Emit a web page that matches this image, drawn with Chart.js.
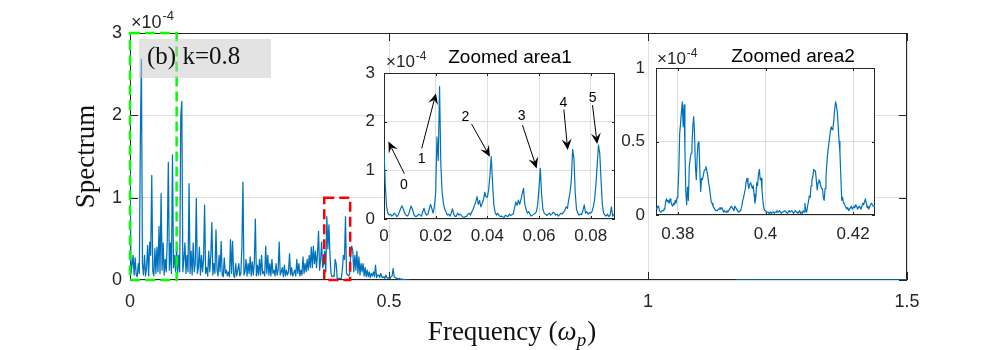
<!DOCTYPE html>
<html>
<head>
<meta charset="utf-8">
<script src="https://cdn.jsdelivr.net/npm/chart.js@4.4.1/dist/chart.umd.min.js"></script>
<style>
html,body{margin:0;padding:0;background:#fff;}
#wrap{position:relative;width:1000px;height:350px;overflow:hidden;}
#wrap canvas{position:absolute;left:0;top:0;pointer-events:none;}
</style>
</head>
<body>
<div id="wrap">
<canvas id="mainChart" width="1000" height="350"></canvas>
<canvas id="zoom1Chart" width="1000" height="350"></canvas>
<canvas id="zoom2Chart" width="1000" height="350"></canvas>
</div>
<script>
// ---------------- data (spectrum values in units of 1e-4) ----------------
const mainStart = 0;
const mainStep = 0.002;
const mainSpectrum = [
  1.43,0.08,0.18,0.30,0.06,  0.27,0.06,0.04,0.20,0.08,
  1.72,2.68,0.20,0.06,0.30,  0.05,0.15,0.42,0.05,0.46,
  0.30,1.27,0.10,0.05,0.38,  0.08,0.40,0.10,0.65,0.08,
  1.05,0.12,0.45,0.06,0.25,  0.10,0.50,1.43,0.12,0.45,
  0.08,1.52,0.15,0.30,0.10,  0.40,0.08,0.30,0.10,1.98,
  2.17,0.10,0.25,0.45,0.08,  0.30,0.10,1.17,0.08,0.35,
  0.06,0.45,0.10,0.20,0.99,  0.08,0.15,0.40,0.06,0.30,
  0.10,0.25,0.91,0.08,0.15,  0.05,0.35,0.10,0.30,0.70,
  0.06,0.20,0.08,0.61,0.12,  0.05,0.30,0.10,0.47,0.06,
  0.04,0.27,0.08,0.12,0.05,  0.10,0.04,0.49,0.08,0.47,
  0.06,0.03,0.20,0.05,0.12,  0.20,0.05,0.08,0.40,1.19,
  0.06,0.10,0.25,0.05,0.20,  0.08,0.28,0.05,0.22,0.06,
  0.20,0.74,0.05,0.18,0.06,  0.25,0.06,0.30,0.08,0.10,
  0.05,0.41,0.08,0.30,0.06,  0.20,0.05,0.25,0.08,0.12,
  0.05,0.20,0.06,0.12,0.46,  0.06,0.10,0.15,0.04,0.18,
  0.05,0.12,0.06,0.10,0.32,  0.06,0.15,0.05,0.08,0.12,
  0.05,0.25,0.08,0.20,0.05,  0.12,0.06,0.28,0.08,0.20,
  0.10,0.25,0.12,0.30,0.15,  0.40,0.15,0.41,0.20,0.35,
  0.15,0.32,0.59,0.12,0.25,  0.46,0.15,0.20,0.35,0.10,
  0.77,0.38,0.67,0.31,0.08,  0.04,0.05,0.04,0.25,0.20,
  0.02,0.02,0.02,0.02,0.02,  0.13,0.30,0.25,0.77,0.08,
  0.06,0.05,0.08,0.30,0.41,  0.36,0.10,0.30,0.12,0.35,
  0.08,0.28,0.06,0.20,0.10,  0.20,0.05,0.15,0.04,0.12,
  0.04,0.10,0.03,0.08,0.05,  0.10,0.04,0.18,0.03,0.06,
  0.06,0.03,0.08,0.04,0.03,  0.04,0.02,0.06,0.03,0.02,
  0.03,0.02,0.04,0.05,0.14,  0.04,0.03,0.02,0.02,0.01,
  0.02,0.01,0.01,0.01,0.005, 0.005,0,0,0,0,
  0
];
const tailFreq = [1.17, 1.5];
const tailSpectrum = [0, 0];

const area1Start = 0;
const area1Step = 0.0005;
const area1Spectrum = [
  1.43,0.70,0.25,0.12,0.08,0.10,0.06,0.08,0.12,0.09,
  0.05,0.08,0.15,0.22,0.27,0.20,0.12,0.08,0.06,0.09,
  0.18,0.27,0.20,0.10,0.06,0.05,0.07,0.10,0.08,0.06,
  0.15,0.22,0.12,0.08,0.10,0.20,0.30,0.22,0.12,0.25,
  0.55,1.69,1.20,2.72,1.10,0.55,0.32,0.20,0.15,0.08,
  0.10,0.06,0.12,0.21,0.10,0.05,0.06,0.12,0.08,0.10,
  0.07,0.04,0.03,0.05,0.06,0.10,0.12,0.08,0.15,0.20,
  0.28,0.35,0.46,0.30,0.38,0.25,0.32,0.40,0.55,0.45,
  0.45,0.60,0.90,1.28,0.75,0.30,0.14,0.08,0.12,0.07,
  0.05,0.06,0.04,0.03,0.08,0.06,0.05,0.10,0.07,0.09,
  0.10,0.22,0.35,0.28,0.39,0.30,0.40,0.52,0.63,0.30,
  0.20,0.12,0.15,0.10,0.06,0.08,0.10,0.12,0.15,0.30,
  0.65,1.04,0.50,0.20,0.12,0.10,0.07,0.10,0.12,0.08,
  0.10,0.14,0.12,0.08,0.10,0.06,0.09,0.12,0.10,0.14,
  0.18,0.25,0.22,0.40,0.55,0.80,1.43,1.25,0.55,0.20,
  0.12,0.08,0.10,0.09,0.18,0.29,0.12,0.15,0.10,0.13,
  0.12,0.15,0.25,0.40,0.70,1.10,1.52,1.35,0.80,0.30,
  0.12,0.08,0.06,0.10,0.05,0.08,0.25,0.06,0.10
];

const area2Start = 0.375;
const area2Step = 0.0002;
const area2Spectrum = [
  0.05,0.04,0.06,0.06,0.03, 0.02,0.02,0.03,0.03,0.04,
  0.04,0.09,0.11,0.09,0.10, 0.08,0.11,0.09,0.07,0.06,
  0.08,0.07,0.10,0.08,0.12, 0.15,0.30,0.55,0.62,0.70,
  0.77,0.60,0.75,0.45,0.16, 0.07,0.19,0.10,0.33,0.38,
  0.42,0.47,0.60,0.67,0.55, 0.33,0.24,0.40,0.49,0.50,
  0.31,0.16,0.25,0.24,0.27, 0.30,0.31,0.33,0.30,0.27,
  0.22,0.19,0.14,0.09,0.08, 0.06,0.05,0.04,0.03,0.03,
  0.03,0.04,0.04,0.05,0.04, 0.05,0.04,0.02,0.03,0.02,
  0.02,0.03,0.02,0.03,0.04, 0.05,0.06,0.05,0.04,0.03,
  0.06,0.05,0.04,0.03,0.02, 0.02,0.03,0.04,0.06,0.10,
  0.12,0.15,0.18,0.23,0.25, 0.21,0.18,0.21,0.22,0.20,
  0.18,0.20,0.14,0.08,0.12, 0.22,0.20,0.28,0.31,0.24,
  0.25,0.17,0.10,0.05,0.03, 0.03,0.02,0.02,0.02,0.01,
  0.02,0.02,0.01,0.02,0.02, 0.01,0.02,0.02,0.03,0.02,
  0.02,0.03,0.02,0.01,0.02, 0.02,0.02,0.03,0.02,0.02,
  0.01,0.02,0.03,0.02,0.02, 0.03,0.02,0.01,0.02,0.03,
  0.02,0.02,0.01,0.02,0.03, 0.01,0.02,0.01,0.03,0.02,
  0.08,0.03,0.02,0.06,0.09, 0.13,0.12,0.20,0.24,0.26,
  0.31,0.30,0.30,0.24,0.17, 0.22,0.24,0.23,0.20,0.18,
  0.18,0.12,0.10,0.18,0.25, 0.35,0.42,0.47,0.52,0.57,
  0.60,0.58,0.59,0.65,0.72, 0.77,0.74,0.70,0.60,0.50,
  0.42,0.26,0.10,0.12,0.08, 0.08,0.06,0.05,0.04,0.05,
  0.03,0.04,0.05,0.06,0.04, 0.05,0.06,0.05,0.07,0.06,
  0.04,0.05,0.06,0.05,0.04, 0.06,0.08,0.07,0.09,0.11,
  0.08,0.05,0.06,0.04,0.06, 0.07,0.08,0.07,0.06,0.06,
  0.07
];

// tick values
const mainXTicks = [0, 0.5, 1, 1.5];
const mainYTicks = [0, 1, 2, 3];
const zoom1XTicks = [0, 0.02, 0.04, 0.06, 0.08];
const zoom1YTicks = [0, 1, 2, 3];
const zoom2XTicks = [0.38, 0.4, 0.42];
const zoom2YTicks = [0, 0.5, 1];

// zoom windows
const zoom1Range = {x: [0, 0.0894], y: [0, 3]};
const zoom2Range = {x: [0.375, 0.425], y: [0, 1]};
const box1Range = {x: [0, 0.09], y: [0, 3]};
const box2Range = {x: [0.375, 0.425], y: [0, 1]};

// peak annotations in zoomed area 1
const arrowLabels = ['0', '1', '2', '3', '4', '5'];
const arrowTailF = [0.0079, 0.0146, 0.0339, 0.0536, 0.0696, 0.0807];
const arrowTailV = [0.93, 1.45, 1.95, 1.93, 2.25, 2.34];
const arrowTipF  = [0.0017, 0.0201, 0.0410, 0.0591, 0.0711, 0.0825];
const arrowTipV  = [1.59, 2.58, 1.28, 1.04, 1.42, 1.54];
const arrowTextF = [0.0077, 0.0146, 0.0315, 0.0533, 0.0694, 0.0807];
const arrowTextV = [0.70, 1.23, 2.09, 2.12, 2.39, 2.49];

// ---------------- styling ----------------
const BLUE = '#0072BD';
const INK = '#262626';
const GRID = '#dedede';
const SANS = '"Liberation Sans", Arial, Helvetica, sans-serif';
const SERIF = '"Liberation Serif", "Times New Roman", serif';

function series(start, step, values) {
  return values.map((v, i) => ({x: +(start + i * step).toFixed(6), y: v}));
}
function pairs(xs, ys) { return xs.map((x, i) => ({x: x, y: ys[i]})); }
const fmt = v => String(parseFloat(Number(v).toFixed(4)));
const fixedTicks = list => scale => { scale.ticks = list.map(v => ({value: v})); };

// MATLAB-like axes box, inner ticks, exponent label, title
const matlabAxes = {
  id: 'matlabAxes',
  beforeDraw(chart, args, o) {
    if (!o.fill) return;
    const {ctx, chartArea: a} = chart;
    ctx.save();
    ctx.fillStyle = '#ffffff';
    ctx.fillRect(a.left, a.top, a.right - a.left, a.bottom - a.top);
    ctx.restore();
  },
  beforeDatasetsDraw(chart, args, o) {
    const {ctx, chartArea: a, scales} = chart;
    const x = scales.x, y = scales.y, L = o.tickLen;
    ctx.save();
    ctx.strokeStyle = INK;
    ctx.lineWidth = 1;
    ctx.beginPath();
    x.ticks.forEach(t => {
      const px = Math.round(x.getPixelForValue(t.value)) + 0.5;
      ctx.moveTo(px, a.bottom); ctx.lineTo(px, a.bottom - L);
      ctx.moveTo(px, a.top); ctx.lineTo(px, a.top + L);
    });
    y.ticks.forEach(t => {
      const py = Math.round(y.getPixelForValue(t.value)) + 0.5;
      ctx.moveTo(a.left, py); ctx.lineTo(a.left + L, py);
      ctx.moveTo(a.right, py); ctx.lineTo(a.right - L, py);
    });
    ctx.stroke();
    ctx.strokeRect(a.left + 0.5, a.top + 0.5, a.right - a.left - 1, a.bottom - a.top - 1);
    ctx.restore();
  },
  afterDraw(chart, args, o) {
    const {ctx, chartArea: a} = chart;
    ctx.save();
    ctx.fillStyle = INK;
    ctx.textAlign = 'left';
    ctx.textBaseline = 'alphabetic';
    const e = o.exponent;
    ctx.font = e.size + 'px ' + SANS;
    const base = '\u00D710';
    ctx.fillText(base, a.left + e.dx, a.top - e.dy);
    const w = ctx.measureText(base).width;
    ctx.font = e.supSize + 'px ' + SANS;
    ctx.fillText('-4', a.left + e.dx + w + 1, a.top - e.dy - e.supRaise);
    if (o.title) {
      ctx.fillStyle = '#000';
      ctx.textAlign = 'center';
      ctx.font = o.title.size + 'px ' + SANS;
      ctx.fillText(o.title.text, a.left + o.title.dx, a.top - o.title.dy);
    }
    if (o.xTitle) {
      const t = o.xTitle;
      const parts = [
        {s: 'Frequency (', f: t.size + 'px ' + SERIF, dy: 0},
        {s: '\u03C9', f: 'italic ' + t.size + 'px ' + SERIF, dy: 0},
        {s: 'p', f: 'italic ' + t.subSize + 'px ' + SERIF, dy: t.subDrop},
        {s: ')', f: t.size + 'px ' + SERIF, dy: 0}
      ];
      let total = 0;
      parts.forEach(p => { ctx.font = p.f; p.w = ctx.measureText(p.s).width; total += p.w; });
      let cx = (a.left + a.right) / 2 + t.dx - total / 2;
      ctx.fillStyle = '#111';
      ctx.textAlign = 'left';
      parts.forEach(p => { ctx.font = p.f; ctx.fillText(p.s, cx, t.baseline + p.dy); cx += p.w + (p.s === 'p' ? 1 : 0); });
    }
    ctx.restore();
  }
};

// dashed zoom boxes + label box on the main axes
const zoomMarks = {
  id: 'zoomMarks',
  afterDatasetsDraw(chart, args, o) {
    const {ctx, chartArea: a, scales: {x, y}} = chart;
    ctx.save();
    o.boxes.forEach(b => {
      const l = x.getPixelForValue(b.range.x[0]), r = x.getPixelForValue(b.range.x[1]);
      const t = y.getPixelForValue(b.range.y[1]), btm = y.getPixelForValue(b.range.y[0]);
      ctx.setLineDash([10, 5]);
      ctx.lineWidth = 2.5;
      ctx.strokeStyle = b.color;
      ctx.strokeRect(l, t, r - l, btm - t);
    });
    ctx.setLineDash([]);
    const lb = o.label;
    ctx.fillStyle = 'rgba(200,200,200,0.5)';
    ctx.fillRect(a.left + lb.dx, a.top + lb.dy, lb.w, lb.h);
    ctx.fillStyle = '#111';
    ctx.font = lb.size + 'px ' + SERIF;
    ctx.textAlign = 'left';
    ctx.textBaseline = 'alphabetic';
    ctx.fillText(lb.text, a.left + lb.dx + lb.pad, a.top + lb.dy + lb.baseline);
    ctx.restore();
  }
};

// arrows pointing at peaks
const peakArrows = {
  id: 'peakArrows',
  afterDatasetsDraw(chart, args, o) {
    const {ctx, scales: {x, y}} = chart;
    ctx.save();
    ctx.strokeStyle = '#000';
    ctx.fillStyle = '#000';
    ctx.lineWidth = 1;
    const L = 11, W = 10;
    arrowLabels.forEach((lab, i) => {
      const sx = x.getPixelForValue(arrowTailF[i]), sy = y.getPixelForValue(arrowTailV[i]);
      const tx = x.getPixelForValue(arrowTipF[i]), ty = y.getPixelForValue(arrowTipV[i]);
      const ang = Math.atan2(ty - sy, tx - sx), c = Math.cos(ang), s = Math.sin(ang);
      ctx.beginPath();
      ctx.moveTo(sx, sy);
      ctx.lineTo(tx - 0.6 * L * c, ty - 0.6 * L * s);
      ctx.stroke();
      ctx.beginPath();
      ctx.moveTo(tx, ty);
      ctx.lineTo(tx - L * c + W / 2 * s, ty - L * s - W / 2 * c);
      ctx.lineTo(tx - 0.6 * L * c, ty - 0.6 * L * s);
      ctx.lineTo(tx - L * c - W / 2 * s, ty - L * s + W / 2 * c);
      ctx.closePath();
      ctx.fill();
      ctx.font = '14px ' + SANS;
      ctx.textAlign = 'center';
      ctx.textBaseline = 'middle';
      ctx.fillText(lab, x.getPixelForValue(arrowTextF[i]), y.getPixelForValue(arrowTextV[i]));
    });
    ctx.restore();
  }
};

function axisOpts(o) {
  return {
    type: 'linear', min: o.range[0], max: o.range[1],
    afterBuildTicks: fixedTicks(o.ticks),
    afterFit: o.fit,
    grid: {color: GRID, drawTicks: false, lineWidth: 1},
    border: {display: false},
    ticks: {padding: o.pad, color: INK, font: {family: SANS, size: o.size}, callback: fmt, maxRotation: 0, autoSkip: false},
    title: o.title || {display: false}
  };
}
function lineSet(data, w) {
  return {data: data, borderColor: BLUE, borderWidth: w, pointRadius: 0, tension: 0,
          borderJoinStyle: 'round', fill: false};
}
const common = {responsive: false, animation: false, devicePixelRatio: 1, events: []};

// ---------------- main axes ----------------
new Chart(document.getElementById('mainChart'), {
  type: 'line',
  data: {datasets: [
    lineSet(series(mainStart, mainStep, mainSpectrum), 1.25),
    lineSet(pairs(tailFreq, tailSpectrum), 1.5)
  ]},
  options: Object.assign({}, common, {
    layout: {padding: {top: 33, right: 93, left: 0, bottom: 0}},
    plugins: {
      legend: {display: false}, tooltip: {enabled: false},
      matlabAxes: {fill: false, tickLen: 8,
        exponent: {size: 18, supSize: 13, dx: 1, dy: 5, supRaise: 8},
        xTitle: {size: 27, subSize: 19, subDrop: 6, baseline: 340, dx: -7}},
      zoomMarks: {
        boxes: [{range: box1Range, color: '#00ff00'}, {range: box2Range, color: '#ff0000'}],
        label: {text: '(b) k=0.8', dx: 9, dy: 6, w: 132, h: 39, pad: 8, baseline: 25, size: 25}
      }
    },
    scales: {
      x: axisOpts({range: [0, 1.5], ticks: mainXTicks, size: 18, pad: 11, fit: s => { s.height = 70; }}),
      y: axisOpts({range: [0, 3], ticks: mainYTicks, size: 18, pad: 8, fit: s => { s.width = 130; },
        title: {display: true, text: 'Spectrum', color: '#111', font: {family: SERIF, size: 27}, padding: {top: 71, bottom: 0}}})
    }
  }),
  plugins: [matlabAxes, zoomMarks]
});

// ---------------- zoomed area 1 ----------------
new Chart(document.getElementById('zoom1Chart'), {
  type: 'line',
  data: {datasets: [lineSet(series(area1Start, area1Step, area1Spectrum), 1.2)]},
  options: Object.assign({}, common, {
    layout: {padding: {top: 73, right: 385, left: 344, bottom: 101}},
    plugins: {
      legend: {display: false}, tooltip: {enabled: false},
      matlabAxes: {fill: true, tickLen: 3,
        exponent: {size: 17, supSize: 12, dx: 2, dy: 6, supRaise: 7},
        title: {text: 'Zoomed area1', size: 19, dx: 126, dy: 10}}
    },
    scales: {
      x: axisOpts({range: zoom1Range.x, ticks: zoom1XTicks, size: 17, pad: 7, fit: s => { s.height = 30; }}),
      y: axisOpts({range: zoom1Range.y, ticks: zoom1YTicks, size: 17, pad: 9, fit: s => { s.width = 40; }})
    }
  }),
  plugins: [matlabAxes, peakArrows]
});

// ---------------- zoomed area 2 ----------------
new Chart(document.getElementById('zoom2Chart'), {
  type: 'line',
  data: {datasets: [lineSet(series(area2Start, area2Step, area2Spectrum), 1.2)]},
  options: Object.assign({}, common, {
    layout: {padding: {top: 68, right: 125, left: 616, bottom: 105}},
    plugins: {
      legend: {display: false}, tooltip: {enabled: false},
      matlabAxes: {fill: true, tickLen: 3,
        exponent: {size: 17, supSize: 12, dx: 1, dy: 4, supRaise: 7},
        title: {text: 'Zoomed area2', size: 19, dx: 137, dy: 6}}
    },
    scales: {
      x: axisOpts({range: zoom2Range.x, ticks: zoom2XTicks, size: 17, pad: 9, fit: s => { s.height = 30; }}),
      y: axisOpts({range: zoom2Range.y, ticks: zoom2YTicks, size: 17, pad: 11, fit: s => { s.width = 40; }})
    }
  }),
  plugins: [matlabAxes]
});
</script>
</body>
</html>
